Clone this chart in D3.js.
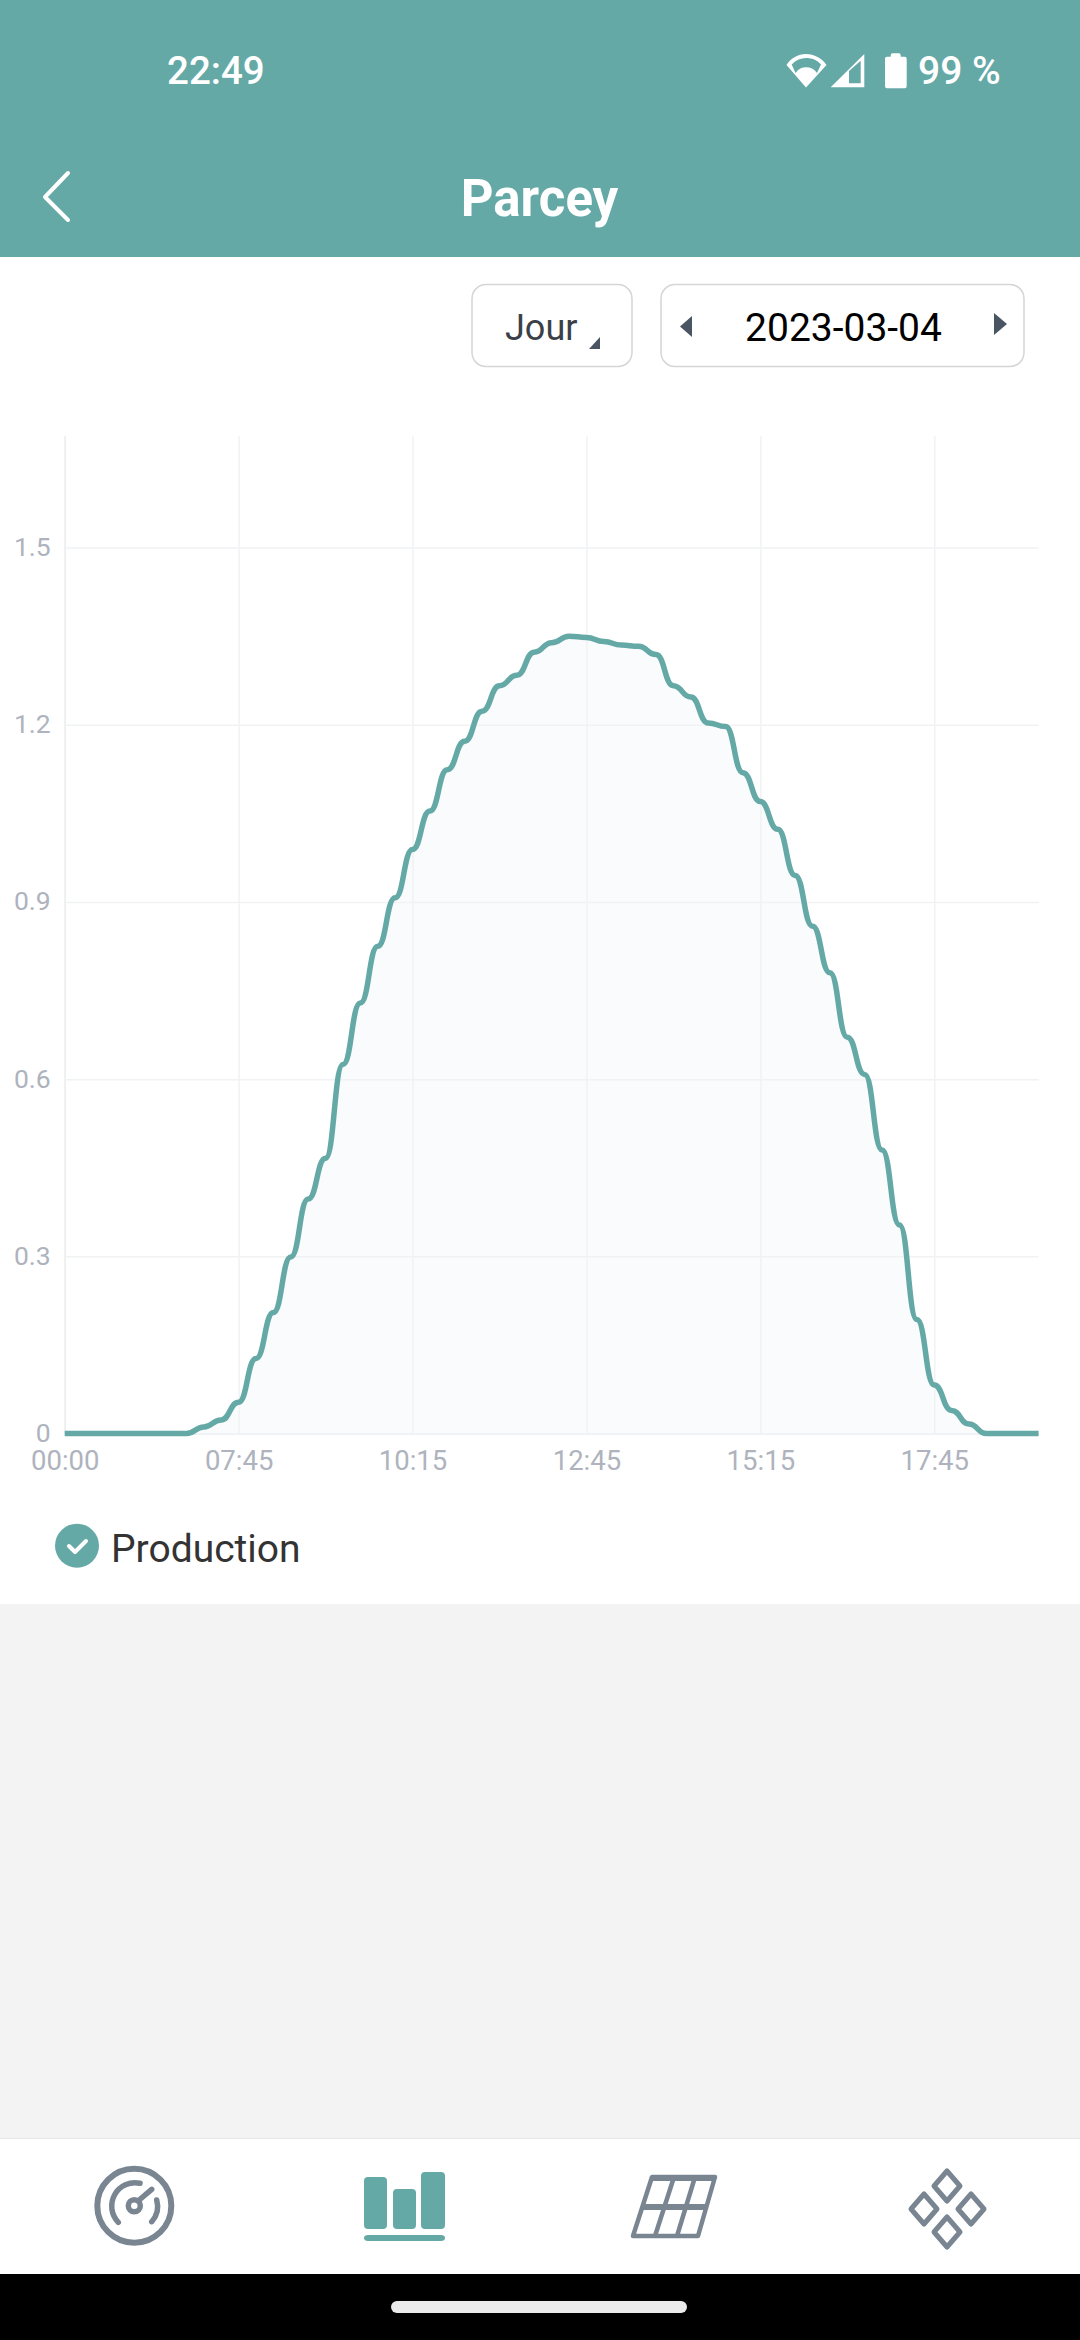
<!DOCTYPE html>
<html>
<head>
<meta charset="utf-8">
<script src="https://d3js.org/d3.v7.min.js"></script>
<style>
    html, body { margin: 0; padding: 0; background: #fff; }
    svg { display: block; font-family: Roboto, sans-serif; }
</style>
</head>
<body>
<svg id="chart" width="1080" height="2340"></svg>
<script>
// 15 minute samples, the axis is categorical so the night gap collapses into one step
const times = [
    "00:00", "05:30", "05:45", "06:00", "06:15", "06:30", "06:45", "07:00", "07:15", "07:30",
    "07:45", "08:00", "08:15", "08:30", "08:45", "09:00", "09:15", "09:30", "09:45", "10:00",
    "10:15", "10:30", "10:45", "11:00", "11:15", "11:30", "11:45", "12:00", "12:15", "12:30",
    "12:45", "13:00", "13:15", "13:30", "13:45", "14:00", "14:15", "14:30", "14:45", "15:00",
    "15:15", "15:30", "15:45", "16:00", "16:15", "16:30", "16:45", "17:00", "17:15", "17:30",
    "17:45", "18:00", "18:15", "18:30", "18:45", "19:00", "19:15",
];
const production = [
    0, 0, 0, 0, 0, 0, 0, 0, 0.011, 0.023,
    0.053, 0.127, 0.205, 0.299, 0.397, 0.466, 0.625, 0.729, 0.825, 0.907,
    0.989, 1.054, 1.124, 1.172, 1.223, 1.266, 1.284, 1.323, 1.339, 1.35,
    1.348, 1.341, 1.335, 1.333, 1.319, 1.266, 1.247, 1.203, 1.197, 1.119,
    1.07, 1.023, 0.945, 0.859, 0.78, 0.671, 0.608, 0.48, 0.353, 0.193,
    0.082, 0.039, 0.016, 0, 0, 0, 0,
];
const xTicks = ["00:00", "07:45", "10:15", "12:45", "15:15", "17:45"];
const yTicks = [0, 0.3, 0.6, 0.9, 1.2, 1.5];

const teal = "#65a9a7";
const iconGrey = "#7a8592";
const svg = d3.select("#chart");

// Page blocks
const block = (y, h, fill) =>
    svg.append("rect").attr("x", 0).attr("y", y).attr("width", 1080).attr("height", h).attr("fill", fill);

block(0, 257, teal);
block(1604, 534, "#f3f3f3");
block(2138, 1, "#e6e6e6");
block(2274, 66, "#000");

svg.append("rect").attr("x", 391).attr("y", 2301).attr("width", 296).attr("height", 12)
    .attr("rx", 6).attr("fill", "#ebebeb");

const label = (x, y, text, size, fill, weight, anchor) =>
    svg.append("text").attr("x", x).attr("y", y).attr("font-size", size)
        .attr("fill", fill).attr("font-weight", weight || 400)
        .attr("text-anchor", anchor || "start").text(text);

// Status bar
label(167, 84, "22:49", 38.5, "#fff", 500);
label(918, 84, "99 %", 39, "#fff", 500);
svg.append("path").attr("fill", "#fff").attr("fill-rule", "evenodd")
    .attr("d", "M806 87.5L786.5 65C791 58 798 54 806 54C814 54 822 58 826.5 65ZM791.7 64.5L795.5 73C798.5 69 802 67.3 806 67.3C810.5 67.3 814 69 817 73L821 64.5C817 60 812 58 806 58C801 58 796 60 791.7 64.5Z");
svg.append("path").attr("fill", "#fff").attr("fill-rule", "evenodd")
    .attr("d", "M830.7 87.3L864.3 54V87.3ZM849 83.3H860.7V60.7L849 71Z");
svg.append("path").attr("fill", "#fff")
    .attr("d", "M890.7 56.7V55.3Q890.7 53.3 892.7 53.3H898.7Q900.7 53.3 900.7 55.3V56.7H904.7Q906.7 56.7 906.7 58.7V86.3Q906.7 88.3 904.7 88.3H887Q885 88.3 885 86.3V58.7Q885 56.7 887 56.7Z");

// Title bar
svg.append("path").attr("d", "M68 173L45 197L68 220").attr("fill", "none")
    .attr("stroke", "#fff").attr("stroke-width", 4).attr("stroke-linecap", "round").attr("stroke-linejoin", "round");
label(539.5, 216, "Parcey", 51, "#fff", 700, "middle");

// Selectors
const button = (x, w) =>
    svg.append("rect").attr("x", x).attr("y", 284.5).attr("width", w).attr("height", 82)
        .attr("rx", 14).attr("fill", "#fff").attr("stroke", "#d5d5d5").attr("stroke-width", 1.5);
const triangle = (d) => svg.append("path").attr("d", d).attr("fill", "#4a5563");

button(472, 160);
button(661, 363);
label(505, 340, "Jour", 36, "#3b4048");
triangle("M600 337V349H589Z");
triangle("M692 316V337L680 326.5Z");
label(843.5, 341, "2023-03-04", 39, "#000", 400, "middle");
triangle("M994 313V335L1007 324Z");

// Chart
const margin = { top: 436, right: 41.4, bottom: 906.5, left: 64.7 };
const x = d3.scalePoint().domain(times).range([margin.left, 1080 - margin.right]);
const y = d3.scaleLinear().domain([0, 1.689]).range([2340 - margin.bottom, margin.top]);

const area = d3.area().x((d, i) => x(times[i])).y0(y(0)).y1((d) => y(d)).curve(d3.curveBumpX);
const line = d3.line().x((d, i) => x(times[i])).y((d) => y(d)).curve(d3.curveBumpX);

svg.append("path").datum(production).attr("d", area).attr("fill", "#f9fbfd");

const xAxis = svg.append("g").attr("transform", `translate(0,${y(0)})`)
    .call(d3.axisBottom(x).tickValues(xTicks).tickSize(-(y(0) - margin.top)).tickSizeOuter(0).tickPadding(17));
const yAxis = svg.append("g").attr("transform", `translate(${margin.left},0)`)
    .call(d3.axisLeft(y).tickValues(yTicks).tickFormat(d3.format("~g")).tickSize(-(1080 - margin.right - margin.left)).tickSizeOuter(0).tickPadding(14));

for (const axis of [xAxis, yAxis]) {
    axis.select(".domain").attr("stroke", "#eceef1").attr("stroke-width", 1.5);
    axis.selectAll(".tick line").attr("stroke", "#f1f2f4").attr("stroke-width", 1.5);
    axis.selectAll("text").attr("fill", "#aeb3bd").attr("font-size", 27.5).attr("font-family", "Roboto, sans-serif");
}
yAxis.selectAll("text").attr("font-size", 26.5).attr("dy", "0.3em");

svg.append("path").datum(production).attr("d", line).attr("fill", "none")
    .attr("stroke", teal).attr("stroke-width", 5.5);

// Legend
svg.append("circle").attr("cx", 77).attr("cy", 1545.7).attr("r", 22).attr("fill", teal);
svg.append("path").attr("d", "M69 1546L75 1552L86 1541").attr("fill", "none")
    .attr("stroke", "#fff").attr("stroke-width", 4).attr("stroke-linecap", "round").attr("stroke-linejoin", "round");
label(111, 1562, "Production", 39, "#333");

// Bottom nav: gauge
const gauge = svg.append("g").attr("fill", "none").attr("stroke", iconGrey).attr("stroke-linecap", "round");
gauge.append("circle").attr("cx", 134.3).attr("cy", 2205.7).attr("r", 37).attr("stroke-width", 6);
gauge.append("path").attr("stroke-width", 5.5).attr("d", "M118.3 2222.3A23.3 23.3 0 0 1 140 2183.3");
gauge.append("path").attr("stroke-width", 5.5).attr("d", "M156.7 2200A23.3 23.3 0 0 1 151.7 2221.7");
gauge.append("circle").attr("cx", 134.3).attr("cy", 2205.7).attr("r", 6).attr("stroke-width", 5.5);
gauge.append("path").attr("stroke-width", 5.5).attr("d", "M138 2201L151.7 2189.3");

// Bottom nav: bars (current page)
const navBars = [[364, 2177, 23, 52], [393, 2189, 23, 40], [421, 2172, 24, 57], [364, 2235, 81, 6]];
svg.append("g").attr("fill", teal).selectAll("rect").data(navBars).join("rect")
    .attr("x", (d) => d[0]).attr("y", (d) => d[1]).attr("width", (d) => d[2]).attr("height", (d) => d[3])
    .attr("rx", 4);

// Bottom nav: solar panel
const panel = svg.append("g").attr("fill", "none").attr("stroke", iconGrey).attr("stroke-linejoin", "round");
panel.append("path").attr("stroke-width", 4.5).attr("d", "M652 2177H715L698 2236H633Z");
panel.append("path").attr("stroke-width", 6).attr("d", "M652 2178H715M643 2207H707");
panel.append("path").attr("stroke-width", 4.5).attr("d", "M674 2177L655 2236M695 2177L677 2236");

// Bottom nav: diamonds
const diamonds = [[947, 2186], [924, 2209], [971, 2209], [947, 2232]];
svg.append("g").attr("fill", "none").attr("stroke", iconGrey).attr("stroke-width", 5).attr("stroke-linejoin", "round")
    .selectAll("path").data(diamonds).join("path")
    .attr("d", (d) => `M${d[0]} ${d[1] - 15}L${d[0] + 13} ${d[1]}L${d[0]} ${d[1] + 15}L${d[0] - 13} ${d[1]}Z`);
</script>
</body>
</html>
